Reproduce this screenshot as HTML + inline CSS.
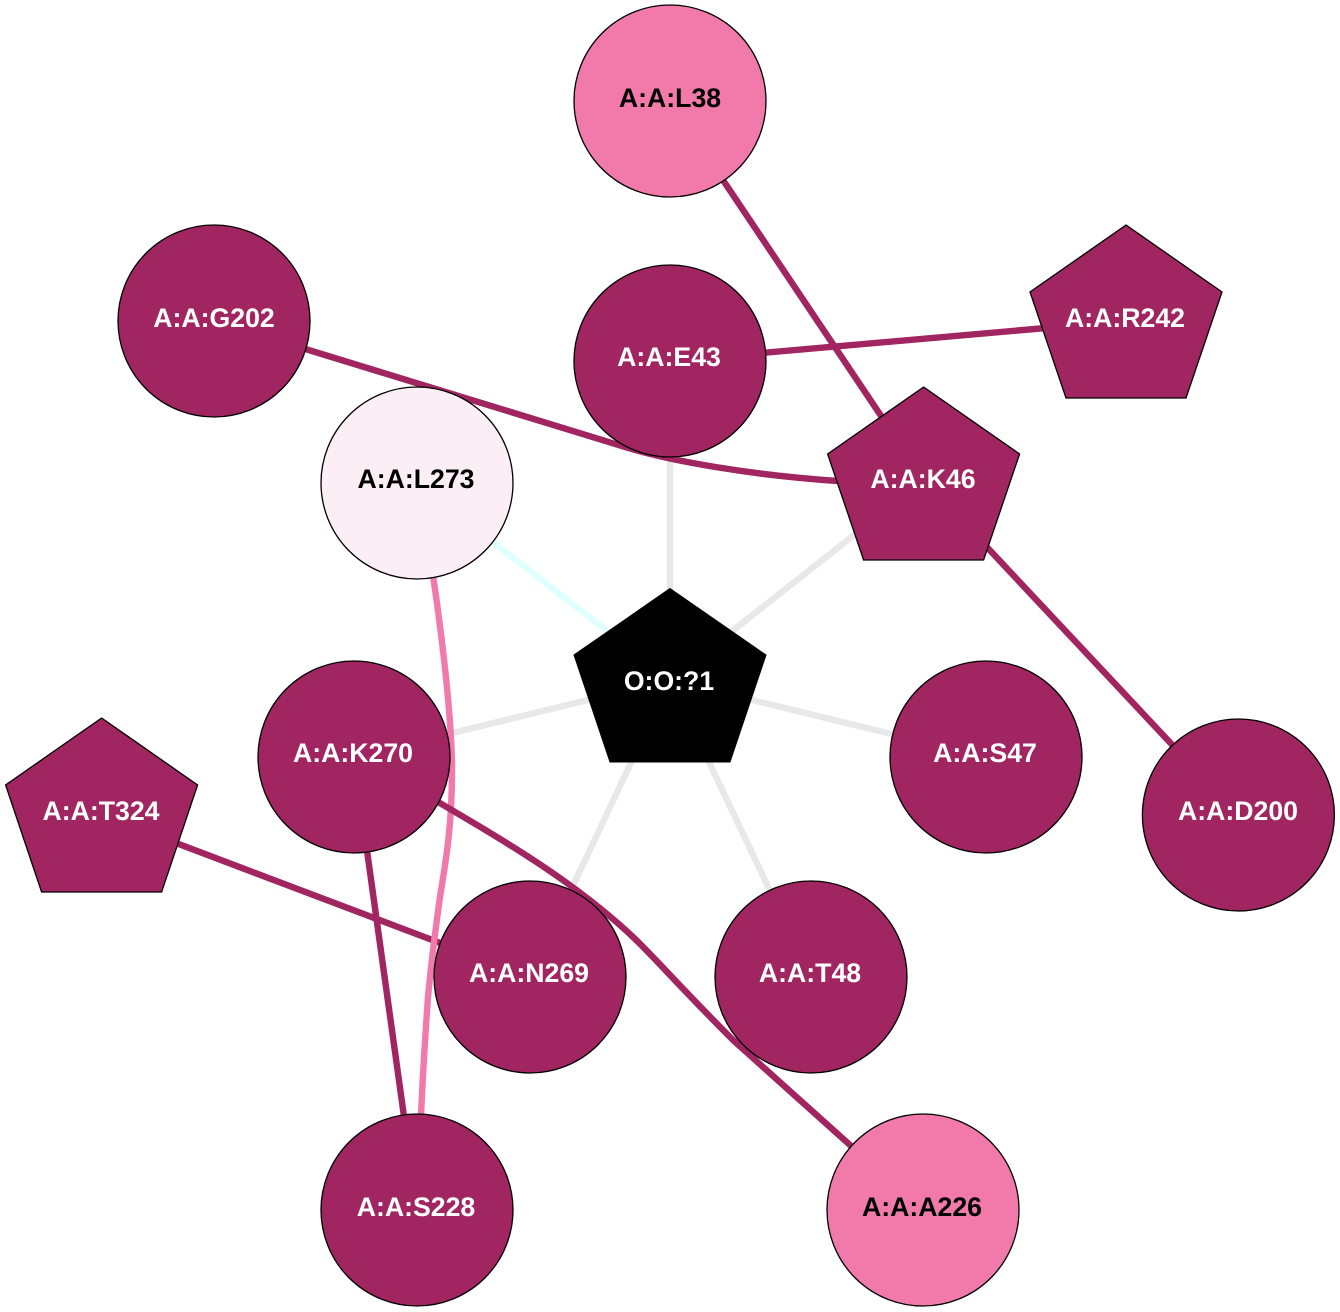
<!DOCTYPE html>
<html><head><meta charset="utf-8"><style>
html,body{margin:0;padding:0;background:#fff}
svg{display:block}
text{font-family:"Liberation Sans",Arial,sans-serif;font-weight:bold;font-size:26.67px;text-anchor:middle}
.n{fill:#a02560;stroke:#000;stroke-width:1.3}
.e{fill:none;stroke:#a02560;stroke-width:6.4}
.g{fill:none;stroke:#e8e8e8;stroke-width:6.4}
.w{fill:#fff}
</style></head><body>
<svg width="1340" height="1312" viewBox="0 0 1340 1312" xmlns="http://www.w3.org/2000/svg">
<rect width="1340" height="1312" fill="#fff"/>
<path class="g" d="M670 361V680"/>
<path class="g" d="M924 480L670 680"/>
<path class="g" d="M354 757L670 680"/>
<path class="g" d="M986 757L670 680"/>
<path class="g" d="M530 977L670 680"/>
<path class="g" d="M811 977L670 680"/>
<path d="M417 483L670 680" fill="none" stroke="#e0ffff" stroke-width="6.4"/>
<path class="e" d="M670 101L924 480"/>
<path class="e" d="M670 361L1126 321"/>
<path class="e" d="M214 321L625 447C670 461 750 475 838 481L924 486"/>
<path class="e" d="M924 480L1238 815"/>
<path class="e" d="M102 815L530 977"/>
<path class="e" d="M354 757L417 1210"/>
<path d="M417 483C440 600 452 720 452 770C452 830 445 865 440 897C434 940 431 965 428 997C425 1040 422 1080 417 1210" fill="none" stroke="#f17aab" stroke-width="6.4"/>
<path class="e" d="M354 757L438 802C500 838 575 882 633 937C655 958 680 987 733 1040L850 1145L924 1210"/>
<circle class="n" cx="670" cy="101" r="96" style="fill:#f17aab"/>
<circle class="n" cx="670" cy="361" r="96"/>
<circle class="n" cx="214" cy="321" r="96"/>
<circle class="n" cx="417" cy="483" r="96" style="fill:#fceef5"/>
<circle class="n" cx="354" cy="757" r="96"/>
<circle class="n" cx="986" cy="757" r="96"/>
<circle class="n" cx="1238.4" cy="815" r="96"/>
<circle class="n" cx="530" cy="977" r="96"/>
<circle class="n" cx="811" cy="977" r="96"/>
<circle class="n" cx="417" cy="1210" r="96"/>
<circle class="n" cx="923" cy="1210" r="96" style="fill:#f17aab"/>
<polygon class="n" points="1126,225 1222,292 1186,398 1066,398 1030,292"/>
<polygon class="n" points="923.6,387 1019.6,454 983.6,560 863.6,560 827.6,454"/>
<polygon class="n" points="101.6,718 197.6,785 161.6,892 41.6,892 5.6,785"/>
<polygon points="670,588.5 766,655 730,762 610,762 574,655" fill="#000" stroke="#000" stroke-width="1"/>
<text x="670" y="107">A:A:L38</text>
<text class="w" x="669" y="366">A:A:E43</text>
<text class="w" x="214" y="327">A:A:G202</text>
<text x="416" y="488">A:A:L273</text>
<text class="w" x="353" y="762">A:A:K270</text>
<text class="w" x="985" y="762">A:A:S47</text>
<text class="w" x="1238" y="820">A:A:D200</text>
<text class="w" x="529" y="982">A:A:N269</text>
<text class="w" x="810" y="982">A:A:T48</text>
<text class="w" x="416" y="1216">A:A:S228</text>
<text x="922" y="1216">A:A:A226</text>
<text class="w" x="1125" y="327">A:A:R242</text>
<text class="w" x="923" y="488">A:A:K46</text>
<text class="w" x="101" y="820">A:A:T324</text>
<text class="w" x="669" y="690">O:O:?1</text>
</svg>
</body></html>
